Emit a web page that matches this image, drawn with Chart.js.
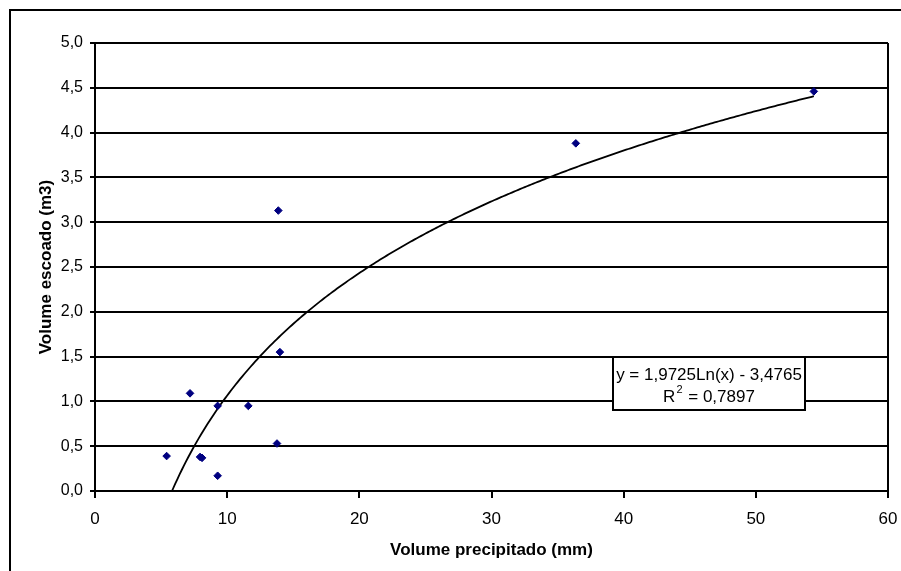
<!DOCTYPE html>
<html>
<head>
<meta charset="utf-8">
<script src="https://cdn.jsdelivr.net/npm/chart.js@4/dist/chart.umd.min.js"></script>
<style>
  html, body { margin: 0; padding: 0; background: #fff; }
  #wrap { width: 901px; height: 571px; }
</style>
</head>
<body>
<div id="wrap"><canvas id="c" width="901" height="571"></canvas></div>
<script>
// Observed events: rainfall (mm) vs. runoff volume (m3)
const precipitacao = [5.42, 7.19, 7.95, 8.10, 9.28, 9.28, 11.60, 13.77, 13.87, 13.99, 36.38, 54.39];
const escoamento   = [0.39, 1.09, 0.38, 0.37, 0.95, 0.17, 0.95, 0.53, 3.13, 1.55, 3.88, 4.46];

// Logarithmic trend line: y = a*Ln(x) + b
const coefA = 1.9725;
const coefB = -3.4765;
const r2 = 0.7897;

const xTicks = [0, 10, 20, 30, 40, 50, 60];
const yTicks = [0, 0.5, 1, 1.5, 2, 2.5, 3, 3.5, 4, 4.5, 5];

const fmt = (v, d) => v.toFixed(d).replace('.', ',');

const pontos = precipitacao.map((x, i) => ({ x: x, y: escoamento[i] }));

// Trend curve sampled between the smallest and largest rainfall
const xMinData = Math.min(...precipitacao);
const xMaxData = Math.max(...precipitacao);
const tendencia = [];
const nSamples = 300;
for (let i = 0; i <= nSamples; i++) {
  const x = xMinData + (xMaxData - xMinData) * i / nSamples;
  tendencia.push({ x: x, y: coefA * Math.log(x) + coefB });
}

const FONT = "'Liberation Sans', Arial, sans-serif";

// White page with the outer frame, plot-area border and the equation box
const framePlugin = {
  id: 'frame',
  beforeDraw(chart) {
    const ctx = chart.ctx;
    ctx.save();
    ctx.fillStyle = '#fff';
    ctx.fillRect(0, 0, chart.width, chart.height);
    ctx.strokeStyle = '#000';
    ctx.lineWidth = 2;
    ctx.beginPath();
    ctx.moveTo(10, chart.height + 10);
    ctx.lineTo(10, 10);
    ctx.lineTo(chart.width + 10, 10);
    ctx.stroke();
    ctx.restore();
  },
  afterDraw(chart) {
    const ctx = chart.ctx;
    const a = chart.chartArea;
    ctx.save();
    ctx.strokeStyle = '#000';
    ctx.lineWidth = 2;
    ctx.beginPath();
    ctx.moveTo(a.right, a.top);
    ctx.lineTo(a.right, a.bottom);
    ctx.stroke();

    // Equation box
    const bx = 613, by = 357, bw = 192, bh = 53;
    ctx.fillStyle = '#fff';
    ctx.fillRect(bx, by, bw, bh);
    ctx.strokeRect(bx, by, bw, bh);

    ctx.fillStyle = '#000';
    ctx.textBaseline = 'alphabetic';
    ctx.font = '17px ' + FONT;
    ctx.textAlign = 'center';
    const eq = 'y = ' + fmt(coefA, 4) + 'Ln(x) - ' + fmt(-coefB, 4);
    const cx = bx + bw / 2;
    ctx.fillText(eq, cx, by + 23);

    // R² line with superscript
    const partR = 'R';
    const partSup = '2';
    const partRest = ' = ' + fmt(r2, 4);
    ctx.font = '17px ' + FONT;
    const wR = ctx.measureText(partR).width;
    const wRest = ctx.measureText(partRest).width;
    ctx.font = '11px ' + FONT;
    const wSup = ctx.measureText(partSup).width + 2;
    const total = wR + wSup + wRest;
    let x0 = cx - total / 2;
    ctx.textAlign = 'left';
    ctx.font = '17px ' + FONT;
    ctx.fillText(partR, x0, by + 45);
    ctx.font = '11px ' + FONT;
    ctx.fillText(partSup, x0 + wR + 1, by + 36);
    ctx.font = '17px ' + FONT;
    ctx.fillText(partRest, x0 + wR + wSup, by + 45);
    ctx.restore();
  }
};

new Chart(document.getElementById('c'), {
  type: 'scatter',
  data: {
    datasets: [
      {
        label: 'Eventos',
        data: pontos,
        pointStyle: 'rectRot',
        pointRadius: 3.8,
        pointBackgroundColor: '#000080',
        pointBorderColor: '#000080',
        pointBorderWidth: 1,
        showLine: false,
        order: 1
      },
      {
        label: 'Tendência',
        data: tendencia,
        showLine: true,
        borderColor: '#000',
        borderWidth: 1.8,
        pointRadius: 0,
        tension: 0,
        order: 2
      }
    ]
  },
  options: {
    responsive: false,
    animation: false,
    layout: { padding: { left: 0, top: 43, right: 13, bottom: 0 } },
    plugins: {
      legend: { display: false },
      tooltip: { enabled: false }
    },
    scales: {
      x: {
        type: 'linear',
        min: 0,
        max: 60,
        afterFit(scale) { scale.height = 80; scale.paddingLeft = 0; scale.paddingRight = 0; },
        afterBuildTicks(scale) { scale.ticks = xTicks.map(v => ({ value: v })); },
        border: { display: true, color: '#000', width: 2 },
        grid: { display: true, drawOnChartArea: false, drawTicks: true, tickLength: 7, color: '#000', lineWidth: 2 },
        ticks: {
          color: '#000',
          font: { family: FONT, size: 17 },
          padding: 11,
          maxRotation: 0,
          callback: v => String(v)
        },
        title: {
          display: true,
          text: 'Volume precipitado (mm)',
          color: '#000',
          font: { family: FONT, size: 17, weight: 'bold' },
          padding: { top: 0, bottom: 10 }
        }
      },
      y: {
        type: 'linear',
        min: 0,
        max: 5,
        afterFit(scale) { scale.width = 95; scale.paddingTop = 0; scale.paddingBottom = 0; },
        afterBuildTicks(scale) { scale.ticks = yTicks.map(v => ({ value: v })); },
        border: { display: true, color: '#000', width: 2 },
        grid: { display: true, drawOnChartArea: true, drawTicks: true, tickLength: 5, color: '#000', lineWidth: 2 },
        ticks: {
          color: '#000',
          font: { family: FONT, size: 16 },
          padding: 7,
          callback: v => fmt(v, 1)
        },
        title: {
          display: true,
          text: 'Volume escoado (m3)',
          color: '#000',
          font: { family: FONT, size: 17, weight: 'bold' },
          padding: { top: 36, bottom: 0 }
        }
      }
    }
  },
  plugins: [framePlugin]
});
</script>
</body>
</html>
